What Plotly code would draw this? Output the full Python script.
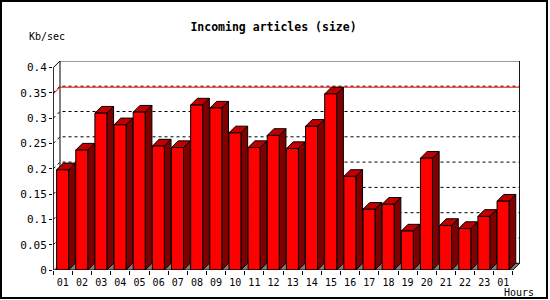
import plotly.graph_objects as go

# ---- data ----
hours = ["01", "02", "03", "04", "05", "06", "07", "08", "09", "10", "11", "12",
         "13", "14", "15", "16", "17", "18", "19", "20", "21", "22", "23", "01"]
kb_per_sec = [0.198, 0.237, 0.310, 0.287, 0.312, 0.245, 0.242, 0.326, 0.320, 0.271,
              0.242, 0.266, 0.240, 0.284, 0.348, 0.185, 0.120, 0.130, 0.077, 0.221,
              0.088, 0.082, 0.106, 0.136]
y_tick_values = [0, 0.05, 0.1, 0.15, 0.2, 0.25, 0.3, 0.35, 0.4]
y_tick_labels = ["0", "0.05", "0.1", "0.15", "0.2", "0.25", "0.3", "0.35", "0.4"]
grid_levels = [0.05, 0.1, 0.15, 0.2, 0.25, 0.3, 0.35]

# ---- geometry (pixels -> data units) ----
W, H = 550, 300
L, R, T, B = 53, 30, 61, 30
X_ORIGIN = 53.3          # pixel of slot 0
SLOT = 19.15             # pixels per category slot
YSCALE = 506.0           # pixels per unit of value
DEPTH = 6.7              # 3D depth in pixels
dx = DEPTH / SLOT
dy = DEPTH / YSCALE
n = len(kb_per_sec)
xmin = (L - X_ORIGIN) / SLOT
xmax = (W - R - X_ORIGIN) / SLOT
ymax = (H - B - T) / YSCALE
wall_x = n + dx
top_v = y_tick_values[-1]
bar_off = 3.3 / SLOT
bar_w = 12.0 / SLOT

def add_poly(xs, ys, pts):
    for (px, py) in pts:
        xs.append(px); ys.append(py)
    xs.append(pts[0][0]); ys.append(pts[0][1])
    xs.append(None); ys.append(None)

fig = go.Figure()

# floor
fx, fy = [], []
add_poly(fx, fy, [(0, 0), (n, 0), (wall_x, dy), (dx, dy)])
fig.add_trace(go.Scatter(x=fx, y=fy, mode="lines", fill="toself",
                         fillcolor="#808080", line=dict(width=0),
                         hoverinfo="skip", showlegend=False, cliponaxis=False))

# back wall edges (behind bars)
fig.add_trace(go.Scatter(x=[dx, dx, None, dx, wall_x], y=[dy, top_v + dy, None, dy, dy],
                         mode="lines", line=dict(color="black", width=1),
                         hoverinfo="skip", showlegend=False, cliponaxis=False))

# dashed grid lines on left and back walls
gx, gy = [], []
for v in grid_levels:
    gx += [0, dx, wall_x, None]
    gy += [v, v + dy, v + dy, None]
fig.add_trace(go.Scatter(x=gx, y=gy, mode="lines",
                         line=dict(color="black", width=1, dash="3px,3px"),
                         hoverinfo="skip", showlegend=False, cliponaxis=False))

# maximum level line
vmax = max(kb_per_sec)
fig.add_trace(go.Scatter(x=[0, dx, wall_x], y=[vmax, vmax + dy, vmax + dy], mode="lines",
                         line=dict(color="#FF0000", width=1),
                         hoverinfo="skip", showlegend=False, cliponaxis=False))

# bars
frx, fry, tpx, tpy, sdx, sdy = [], [], [], [], [], []
for i, v in enumerate(kb_per_sec):
    x0 = i + bar_off
    x1 = x0 + bar_w
    add_poly(frx, fry, [(x0, 0), (x1, 0), (x1, v), (x0, v)])
    add_poly(tpx, tpy, [(x0, v), (x1, v), (x1 + dx, v + dy), (x0 + dx, v + dy)])
    add_poly(sdx, sdy, [(x1, 0), (x1 + dx, dy), (x1 + dx, v + dy), (x1, v)])
for xs, ys, col in [(sdx, sdy, "#800000"), (tpx, tpy, "#C00000"), (frx, fry, "#FF0000")]:
    fig.add_trace(go.Scatter(x=xs, y=ys, mode="lines", fill="toself", fillcolor=col,
                             line=dict(color="black", width=1),
                             hoverinfo="skip", showlegend=False, cliponaxis=False))

# front frame: axis, top edge, right wall, floor front
fig.add_trace(go.Scatter(
    x=[dx, 0, 0, n, wall_x, wall_x, dx],
    y=[top_v + dy, top_v, 0, 0, dy, top_v + dy, top_v + dy],
    mode="lines", line=dict(color="black", width=1),
    hoverinfo="skip", showlegend=False, cliponaxis=False))

def pxp(X):
    return (X - L) / (W - L - R)

def pyp(Y):
    return (H - B - Y) / (H - B - T)

FONT = "DejaVu Sans Mono"

fig.update_layout(
    width=W, height=H,
    margin=dict(l=L, r=R, t=T, b=B, pad=0),
    paper_bgcolor="white", plot_bgcolor="white",
    title=dict(text="<b>Incoming articles (size)</b>", x=273.5 / W, xanchor="center",
               xref="container", y=1 - 26.7 / H, yanchor="middle",
               font=dict(family=FONT, size=11.5, color="black")),
    xaxis=dict(range=[xmin, xmax], showgrid=False, zeroline=False, showline=False,
               tickmode="array", tickvals=[i + 0.5 for i in range(n)], ticktext=hours,
               ticks="outside", ticklen=3, tickcolor="rgba(0,0,0,0)",
               tickfont=dict(family=FONT, size=10, color="black"),
               minor=dict(tickmode="linear", tick0=0, dtick=1, ticks="outside",
                          ticklen=4, tickcolor="black", tickwidth=1, showgrid=False)),
    yaxis=dict(range=[0, ymax], showgrid=False, zeroline=False, showline=False,
               tickmode="array", tickvals=y_tick_values, ticktext=y_tick_labels,
               ticks="outside", ticklen=3, tickcolor="black", tickwidth=1,
               tickfont=dict(family=FONT, size=11, color="black")),
    annotations=[
        dict(text="Kb/sec", x=pxp(47), y=pyp(36.7), xref="paper", yref="paper",
             showarrow=False, xanchor="center", yanchor="middle",
             font=dict(family=FONT, size=10, color="black")),
        dict(text="Hours", x=pxp(519), y=pyp(292.7), xref="paper", yref="paper",
             showarrow=False, xanchor="center", yanchor="middle",
             font=dict(family=FONT, size=10, color="black")),
    ],
    shapes=[dict(type="rect", xref="paper", yref="paper",
                 x0=pxp(1), x1=pxp(547), y0=pyp(298), y1=pyp(1),
                 line=dict(color="black", width=2), layer="above")],
)

fig.write_html("out.html")
